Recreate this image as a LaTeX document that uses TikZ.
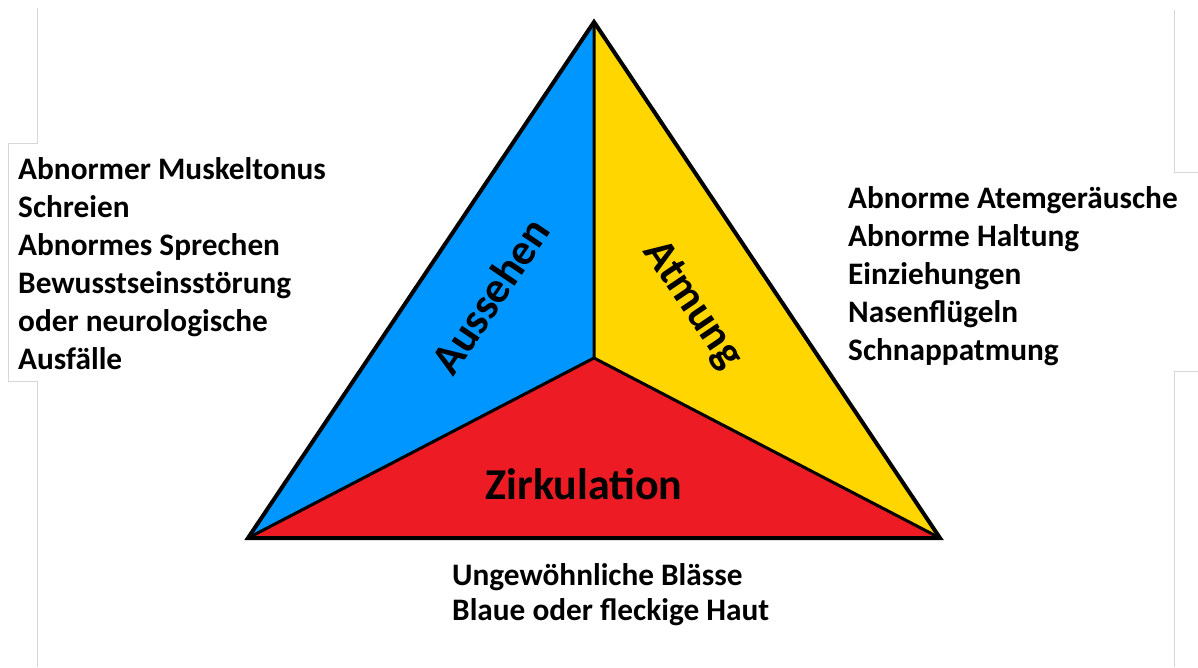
\documentclass[tikz,border=0pt]{standalone}
\usepackage{fontspec}
\setmainfont{Carlito}
\definecolor{cblue}{RGB}{0,150,255}
\definecolor{cyellow}{RGB}{255,214,0}
\definecolor{cred}{RGB}{237,28,36}
\definecolor{cgray}{RGB}{215,215,215}
\begin{document}
\begin{tikzpicture}[x=1pt,y=-1pt,
  listtext/.style={inner sep=0pt,anchor=base west,font=\bfseries\fontsize{31.3}{36}\selectfont},
  bigtext/.style={inner sep=0pt,font=\bfseries\fontsize{44}{50}\selectfont},
  edge/.style={draw=black,line width=4pt,line join=miter},
  frame/.style={draw=cgray,line width=0.8pt}]
\useasboundingbox (0,0) rectangle (1198,667);
\coordinate (A) at (594,22);
\coordinate (B) at (248,538);
\coordinate (C) at (940,538);
\coordinate (O) at (594,358);
% gray frame lines
\draw[frame] (37,8) -- (37,143) -- (8,143) -- (8,381) -- (37,381) -- (37,667);
\draw[frame] (1174,10) -- (1174,172) -- (1198,172);
\draw[frame] (1198,371) -- (1174,371) -- (1174,667);
% triangle
\fill[cblue] (A) -- (O) -- (B) -- cycle;
\fill[cyellow] (A) -- (C) -- (O) -- cycle;
\fill[cred] (B) -- (O) -- (C) -- cycle;
\draw[black,line width=3pt] (A) -- (O) (B) -- (O) -- (C);
\draw[edge] (A) -- (B) -- (C) -- cycle;
% labels in triangle
\node[bigtext,rotate=56] (aus) at (490,296) {Aussehen};
\node[bigtext,rotate=-56] (atm) at (692,305) {Atmung};
\node[bigtext] (zir) at (584,484) {Zirkulation};
% left list
\node[listtext] (l1) at (18,179) {Abnormer Muskeltonus};
\node[listtext] (l2) at (18,217) {Schreien};
\node[listtext] (l3) at (18,255) {Abnormes Sprechen};
\node[listtext] (l4) at (18,293) {Bewusstseinsstörung};
\node[listtext] (l5) at (18,331) {oder neurologische};
\node[listtext] (l6) at (18,369) {Ausfälle};
% right list
\node[listtext] (r1) at (848,208) {Abnorme Atemgeräusche};
\node[listtext] (r2) at (848,246) {Abnorme Haltung};
\node[listtext] (r3) at (848,284) {Einziehungen};
\node[listtext] (r4) at (848,322) {Nasenflügeln};
\node[listtext] (r5) at (848,360) {Schnappatmung};
% bottom list
\node[listtext] (b1) at (452,585) {Ungewöhnliche Blässe};
\node[listtext] (b2) at (452,620) {Blaue oder fleckige Haut};
\end{tikzpicture}
\end{document}
